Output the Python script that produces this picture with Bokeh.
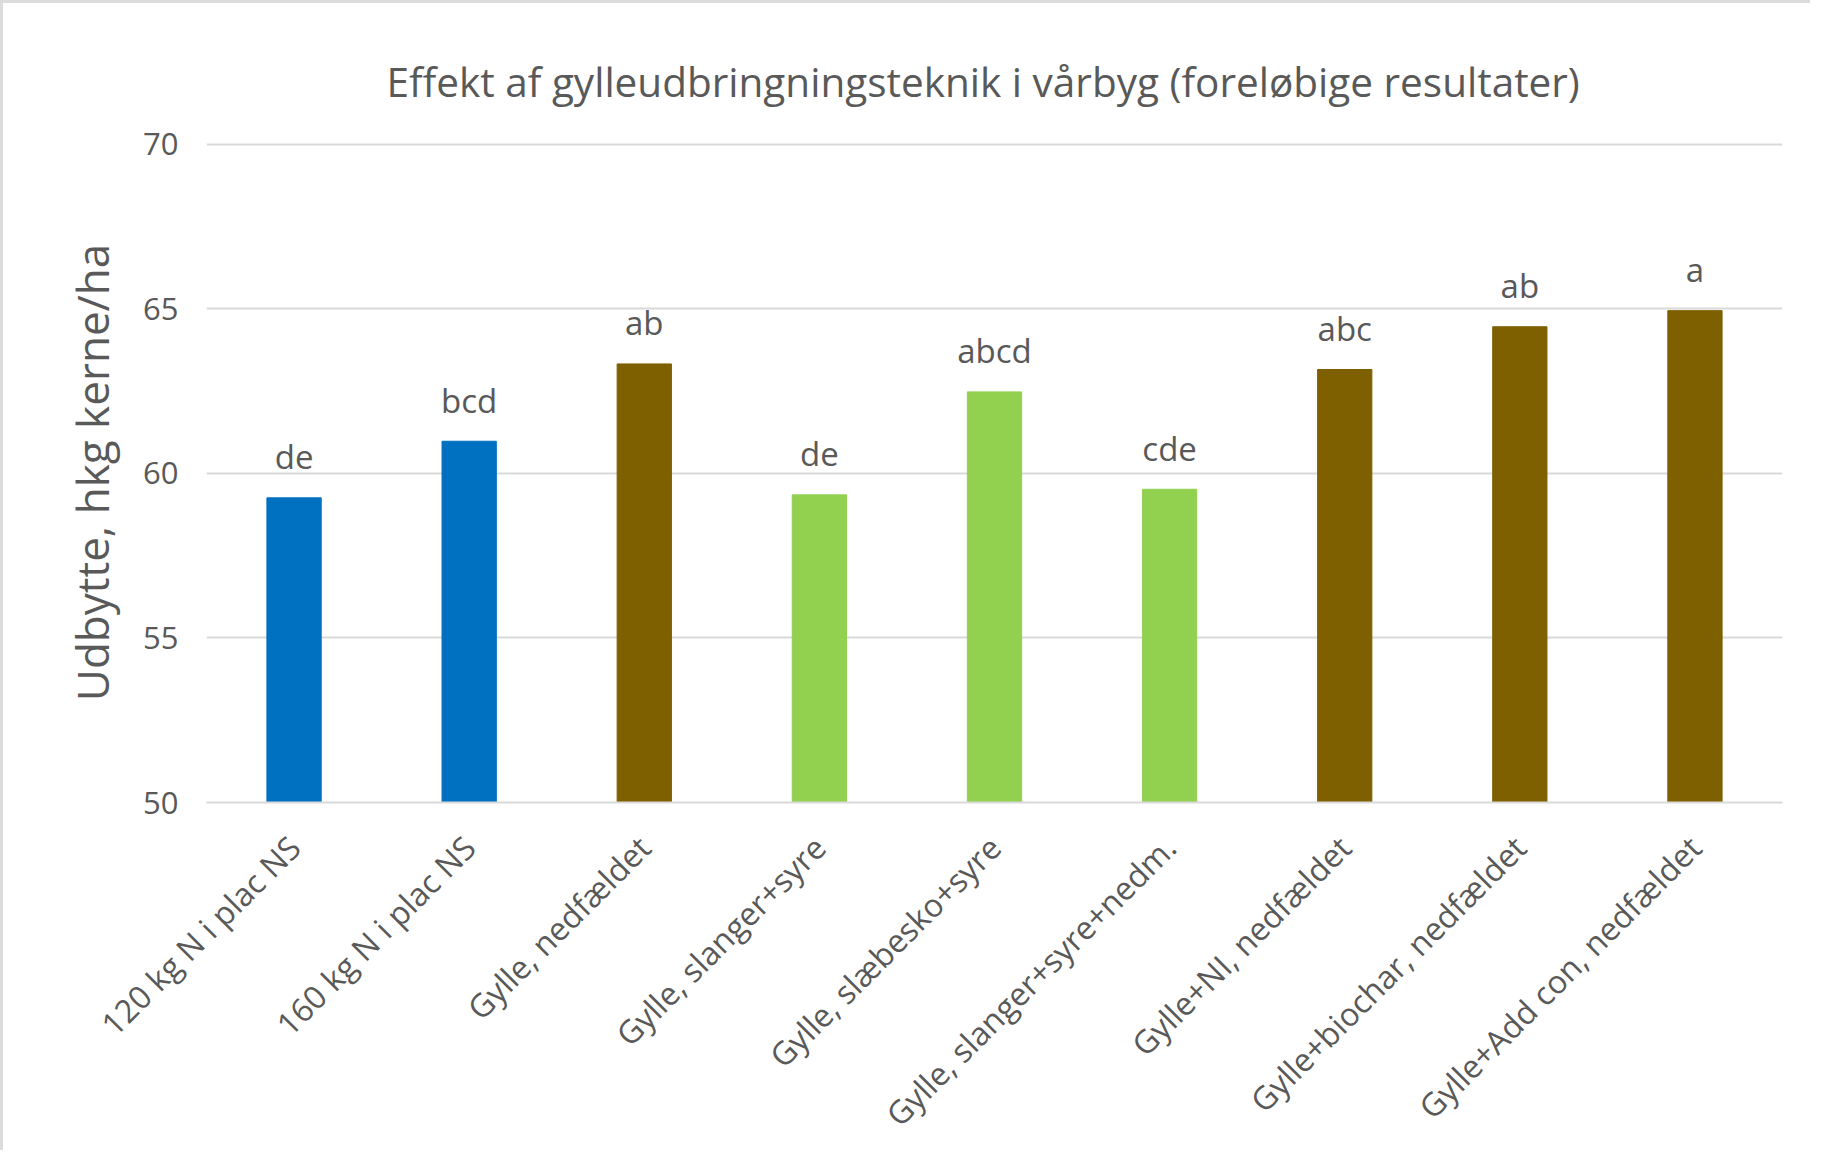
import math
from bokeh.plotting import figure
from bokeh.models import ColumnDataSource, FixedTicker
from bokeh.core.properties import value
from bokeh.embed import file_html
from bokeh.resources import INLINE

# ---- data ----
categories = [
    "120 kg N i plac NS",
    "160 kg N i plac NS",
    "Gylle, nedfældet",
    "Gylle, slanger+syre",
    "Gylle, slæbesko+syre",
    "Gylle, slanger+syre+nedm.",
    "Gylle+NI, nedfældet",
    "Gylle+biochar, nedfældet",
    "Gylle+Add con, nedfældet",
]
yields = [59.26, 60.98, 63.33, 59.35, 62.48, 59.52, 63.16, 64.46, 64.95]
letters = ["de", "bcd", "ab", "de", "abcd", "cde", "abc", "ab", "a"]
groups = ["mineral", "mineral", "nedfaeldet", "syre", "syre", "syre",
          "nedfaeldet", "nedfaeldet", "nedfaeldet"]
y_ticks = [50, 55, 60, 65, 70]

group_colors = {"mineral": "#0070C0", "nedfaeldet": "#7F6000", "syre": "#92D050"}
TEXT = "#595959"
GRID = "#D9D9D9"
FONT = "Open Sans"

src = ColumnDataSource(dict(
    cat=categories, y=yields, lab=letters,
    color=[group_colors[g] for g in groups],
))

p = figure(
    x_range=categories, y_range=(50, 70.06),
    width=1810, height=1150,
    output_backend="svg", toolbar_location=None,
    min_border_left=203, min_border_right=31,
    min_border_top=139, min_border_bottom=351,
    title="Effekt af gylleudbringningsteknik i vårbyg (foreløbige resultater)",
)
p.x_range.range_padding = 0
p.outline_line_color = None
p.background_fill_color = "white"
p.border_fill_color = "white"

p.title.align = "left"
p.title.offset = 180
p.title.text_font = FONT
p.title.text_font_size = "40.5px"
p.title.text_font_style = "normal"
p.title.text_color = TEXT
p.title.standoff = 68

p.vbar(x="cat", top="y", bottom=50, width=0.31, color="color", source=src)
p.text(x="cat", y="y", text="lab", source=src,
       text_align="center", text_baseline="alphabetic", y_offset=-41,
       text_font=value(FONT), text_font_size="33px", text_color=TEXT)

# grid
p.xgrid.grid_line_color = None
p.ygrid.ticker = FixedTicker(ticks=y_ticks)
p.ygrid.grid_line_color = GRID
p.ygrid.grid_line_width = 2

# y axis
p.yaxis.ticker = FixedTicker(ticks=y_ticks)
p.yaxis.axis_line_color = None
p.yaxis.major_tick_line_color = None
p.yaxis.minor_tick_line_color = None
p.yaxis.major_label_standoff = 22
p.yaxis.major_label_text_font = FONT
p.yaxis.major_label_text_font_size = "31px"
p.yaxis.major_label_text_color = TEXT
p.yaxis.axis_label = "Udbytte, hkg kerne/ha"
p.yaxis.axis_label_text_font = FONT
p.yaxis.axis_label_text_font_size = "44px"
p.yaxis.axis_label_text_font_style = "normal"
p.yaxis.axis_label_text_color = TEXT
p.yaxis.axis_label_standoff = 18

# x axis
p.xaxis.axis_line_color = GRID
p.xaxis.axis_line_width = 2
p.xaxis.major_tick_line_color = None
p.xaxis.minor_tick_line_color = None
p.xaxis.major_label_orientation = math.pi / 4
p.xaxis.major_label_standoff = 33
p.xaxis.major_label_text_font = FONT
p.xaxis.major_label_text_font_size = "32px"
p.xaxis.major_label_text_color = TEXT

p.styles = {"border-top": "3px solid #DCDCDC", "border-left": "3px solid #DCDCDC"}

open("out.html", "w").write(file_html(p, INLINE))
